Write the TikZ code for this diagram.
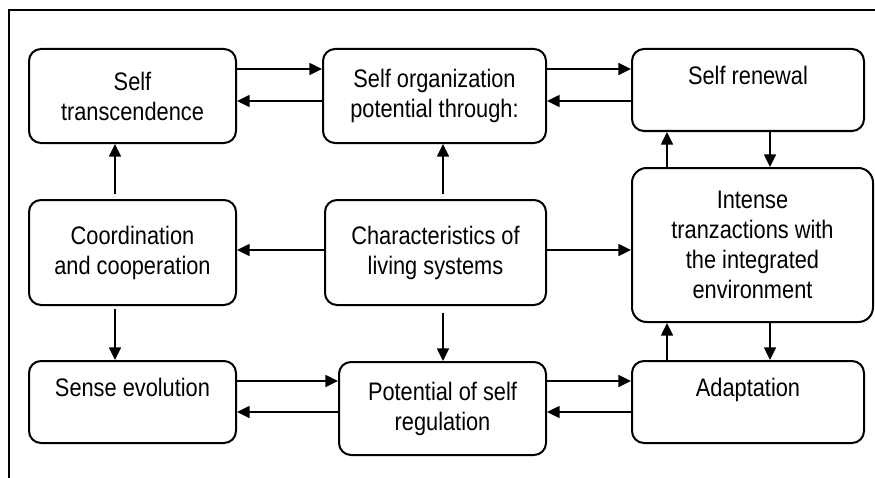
\documentclass[tikz,border=0pt]{standalone}
\usepackage{fontspec}
\setmainfont{Liberation Sans}[FakeStretch=0.86]
\usetikzlibrary{arrows.meta}
\begin{document}
\begin{tikzpicture}[x=0.75pt,y=-0.75pt,
  box/.style={draw,line width=1.5pt,rounded corners=9pt,align=center,
    inner sep=0pt,font=\fontsize{19}{22.5}\selectfont},
  arr/.style={line width=1.1pt,-{Triangle[length=9.5pt,width=9pt]}},
  frameline/.style={line width=1.5pt}]
\useasboundingbox (0,0) rectangle (875,478);
% outer frame (top and left edges)
\draw[frameline] (9,478) -- (9,10) -- (875,10);

% boxes
\node[box,minimum width=207*0.75pt,minimum height=94*0.75pt] (st) at (132.5,96) {Self\\transcendence};
\node[box,minimum width=223*0.75pt,minimum height=94*0.75pt] (so) at (434.5,96) {Self organization\\potential through:};
\node[box,minimum width=232*0.75pt,minimum height=82*0.75pt] (sr) at (748,90) {Self renewal\\\mbox{}};
\node[box,minimum width=207*0.75pt,minimum height=105*0.75pt] (co) at (132.5,252.5) {Coordination\\and cooperation};
\node[box,minimum width=221*0.75pt,minimum height=105*0.75pt] (ch) at (435.5,252.5) {Characteristics of\\living systems};
\node[box,minimum width=241*0.75pt,minimum height=154*0.75pt,rounded corners=11pt] (in) at (752.5,245) {Intense\\tranzactions with\\the integrated\\environment};
\node[box,minimum width=207*0.75pt,minimum height=82*0.75pt] (se) at (132.5,402) {Sense evolution\\\mbox{}};
\node[box,minimum width=207*0.75pt,minimum height=93*0.75pt] (ps) at (442.5,408.5) {Potential of self\\regulation};
\node[box,minimum width=232*0.75pt,minimum height=82*0.75pt] (ad) at (748,402) {Adaptation\\\mbox{}};

% top row links
\draw[arr] (st.east |- 0,69) -- (so.west |- 0,69);
\draw[arr] (so.west |- 0,101) -- (st.east |- 0,101);
\draw[arr] (so.east |- 0,69) -- (sr.west |- 0,69);
\draw[arr] (sr.west |- 0,101) -- (so.east |- 0,101);

% bottom row links
\draw[arr] (se.east |- 0,381) -- (ps.west |- 0,381);
\draw[arr] (ps.west |- 0,412) -- (se.east |- 0,412);
\draw[arr] (ps.east |- 0,381) -- (ad.west |- 0,381);
\draw[arr] (ad.west |- 0,412) -- (ps.east |- 0,412);

% links from the centre box
\draw[arr] (ch.west |- 0,250) -- (co.east |- 0,250);
\draw[arr] (ch.east |- 0,250) -- (in.west |- 0,250);
\draw[arr,shorten <=4pt] (ch.north -| 443,0) -- (so.south -| 443,0);
\draw[arr,shorten <=5pt] (ch.south -| 443,0) -- (ps.north -| 443,0);

% left column
\draw[arr,shorten <=4pt] (co.north -| 115,0) -- (st.south -| 115,0);
\draw[arr,shorten <=2pt] (co.south -| 115,0) -- (se.north -| 115,0);

% right column
\draw[arr] (in.north -| 667,0) -- (sr.south -| 667,0);
\draw[arr] (sr.south -| 770,0) -- (in.north -| 770,0);
\draw[arr] (ad.north -| 667,0) -- (in.south -| 667,0);
\draw[arr] (in.south -| 770,0) -- (ad.north -| 770,0);
\end{tikzpicture}
\end{document}
